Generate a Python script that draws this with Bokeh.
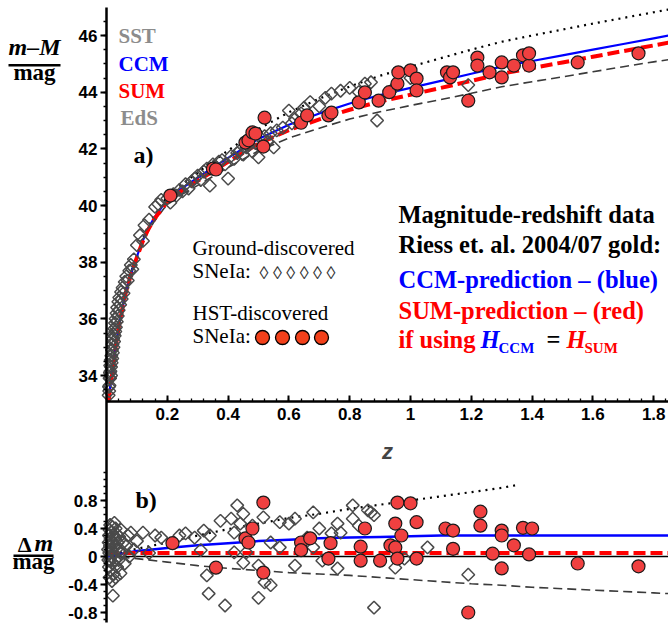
import numpy as np
from bokeh.plotting import figure
from bokeh.models import (Range1d, LinearAxis, FixedTicker, Label, Legend, LegendItem,
                          BoxAnnotation, Grid)
from bokeh.embed import file_html
from bokeh.resources import INLINE

# ---------------- data ----------------
# model curves, panel a)  (z, m-M)
z_curve = [0.0075, 0.012, 0.019, 0.025, 0.03, 0.04, 0.05, 0.0625, 0.075, 0.085, 0.1, 0.117, 0.135,
           0.156, 0.19, 0.211, 0.25, 0.3, 0.352, 0.4, 0.5, 0.6, 0.7, 0.8, 0.9, 1.0, 1.1, 1.2, 1.3,
           1.4, 1.5, 1.6, 1.7, 1.8, 1.85]
ccm_top = [33.1, 33.6, 34.07, 34.55, 34.99, 35.7, 36.25, 36.89, 37.35, 37.75, 38.2, 38.7, 39.15,
           39.55, 40.07, 40.3, 40.62, 40.98, 41.35, 41.68, 42.35, 42.85, 43.25, 43.6, 43.9, 44.15,
           44.4, 44.65, 44.9, 45.1, 45.3, 45.5, 45.7, 45.9, 46.0]
sum_top = [33.1, 33.6, 34.07, 34.55, 34.99, 35.7, 36.25, 36.89, 37.35, 37.74, 38.17, 38.67, 39.11,
           39.5, 40.0, 40.23, 40.53, 40.87, 41.22, 41.54, 42.18, 42.66, 43.04, 43.38, 43.67, 43.91,
           44.15, 44.4, 44.65, 44.85, 45.05, 45.25, 45.45, 45.65, 45.75]
eds_top = [33.1, 33.6, 34.06, 34.53, 34.97, 35.67, 36.21, 36.85, 37.3, 37.69, 38.12, 38.61, 39.04,
           39.42, 39.91, 40.12, 40.4, 40.71, 41.04, 41.34, 41.93, 42.38, 42.73, 43.05, 43.31, 43.53,
           43.74, 43.96, 44.19, 44.37, 44.54, 44.72, 44.9, 45.07, 45.15]
sst_top = [33.1, 33.6, 34.08, 34.56, 35.0, 35.72, 36.28, 36.92, 37.39, 37.79, 38.25, 38.76, 39.22,
           39.63, 40.17, 40.41, 40.76, 41.16, 41.57, 41.94, 42.7, 43.29, 43.77, 44.2, 44.58, 44.9,
           45.2, 45.5, 45.78, 46.0, 46.21, 46.42, 46.62, 46.82, 46.92]

# model curves, panel b)  (z, delta m)
z_res = [0.0, 0.05, 0.1, 0.2, 0.3, 0.4, 0.5, 0.6, 0.7, 0.8, 0.9, 1.0, 1.1, 1.2, 1.3, 1.4, 1.5,
         1.6, 1.7, 1.8, 1.85]
ccm_res = [0.0, 0.04, 0.08, 0.12, 0.16, 0.19, 0.22, 0.24, 0.26, 0.27, 0.28, 0.29, 0.3, 0.3, 0.3,
           0.3, 0.3, 0.3, 0.3, 0.3, 0.3]
sum_res = [0.05, 0.05, 0.05, 0.05, 0.05, 0.05, 0.05, 0.05, 0.05, 0.05, 0.05, 0.05, 0.05, 0.05,
           0.05, 0.05, 0.05, 0.05, 0.05, 0.05, 0.05]
zero_res = [0.0] * len(z_res)
eds_res = [0.0, -0.01, -0.03, -0.08, -0.13, -0.17, -0.2, -0.23, -0.25, -0.27, -0.3, -0.33, -0.36,
           -0.39, -0.41, -0.44, -0.46, -0.48, -0.5, -0.52, -0.53]
z_sst_res = [0.0, 0.05, 0.1, 0.2, 0.3, 0.4, 0.5, 0.6, 0.7, 0.8, 0.9, 1.0, 1.1, 1.2, 1.3, 1.36]
sst_res = [0.0, 0.06, 0.11, 0.2, 0.3, 0.39, 0.47, 0.55, 0.61, 0.68, 0.74, 0.8, 0.86, 0.92, 0.98, 1.03]

# ground-discovered SNe Ia, panel a)  (z, m-M)
ground_top = [
    (0.007, 33.3), (0.008, 33.6), (0.009, 33.45), (0.01, 33.9), (0.01, 33.65), (0.011, 34.1),
    (0.012, 33.9), (0.012, 34.35), (0.013, 34.15), (0.014, 34.55), (0.015, 34.3), (0.015, 34.0),
    (0.016, 34.7), (0.017, 34.45), (0.018, 34.9), (0.019, 34.6), (0.02, 35.1), (0.021, 34.8),
    (0.022, 35.3), (0.023, 35.0), (0.024, 35.45), (0.025, 35.2), (0.026, 35.65), (0.027, 35.4),
    (0.028, 35.85), (0.029, 35.55), (0.03, 36.0), (0.031, 35.7), (0.033, 36.2), (0.034, 35.9),
    (0.035, 36.4), (0.037, 36.1), (0.039, 36.6), (0.04, 36.3), (0.042, 36.75), (0.045, 36.5),
    (0.048, 36.95), (0.05, 36.7), (0.053, 37.1), (0.056, 36.9), (0.06, 37.3), (0.065, 37.5),
    (0.07, 37.35), (0.075, 37.7), (0.08, 37.9), (0.085, 37.75), (0.09, 38.1), (0.1, 38.6),
    (0.11, 38.95), (0.12, 38.75), (0.125, 39.3), (0.14, 39.5), (0.16, 39.95), (0.17, 40.05),
    (0.18, 40.2),
    (0.2, 40.25), (0.21, 40.1), (0.22, 40.4), (0.23, 40.35), (0.24, 40.55), (0.25, 40.5),
    (0.26, 40.75), (0.27, 40.6), (0.28, 40.85), (0.29, 40.95), (0.3, 41.05), (0.31, 40.9),
    (0.32, 41.2), (0.33, 41.3), (0.34, 40.7), (0.35, 41.45), (0.36, 41.35), (0.37, 41.55),
    (0.38, 41.6), (0.39, 41.45), (0.40, 40.95), (0.41, 41.75), (0.42, 41.65), (0.43, 41.85),
    (0.44, 41.95), (0.45, 41.8), (0.46, 42.05), (0.47, 42.15), (0.48, 41.9), (0.49, 42.2),
    (0.5, 41.7), (0.51, 42.35), (0.52, 42.45), (0.53, 42.25), (0.54, 42.55), (0.55, 42.05),
    (0.56, 42.65), (0.58, 42.75), (0.6, 43.35), (0.61, 42.9), (0.62, 43.05), (0.64, 43.25),
    (0.65, 43.45), (0.67, 43.65), (0.7, 43.5), (0.72, 43.8), (0.74, 43.95), (0.77, 44.05),
    (0.8, 44.15), (0.83, 44.0), (0.85, 44.3), (0.87, 44.35), (0.89, 43.0), (0.95, 44.2),
    (1.0, 44.5), (1.19, 44.25)]

# HST-discovered SNe Ia, panel a)
hst_z_top = [0.21, 0.35, 0.36, 0.457, 0.467, 0.48, 0.49, 0.516, 0.52, 0.64, 0.66, 0.73, 0.74,
             0.83, 0.85, 0.895, 0.93, 0.957, 0.96, 1.0, 1.02, 1.02, 1.12, 1.13, 1.14, 1.19, 1.22,
             1.22, 1.26, 1.3, 1.3, 1.34, 1.37, 1.39, 1.39, 1.55, 1.75]
hst_mag_top = [40.35, 41.3, 41.27, 42.22, 42.3, 42.58, 42.54, 42.08, 43.1, 42.92, 43.18, 43.18,
               43.28, 43.64, 43.99, 43.7, 44.0, 44.3, 44.7, 44.77, 44.48, 44.06, 44.7, 44.52, 44.7,
               43.7, 45.22, 44.94, 44.7, 45.05, 44.52, 44.94, 45.3, 44.94, 45.37, 45.05, 45.37]

# ground-discovered SNe Ia, panel b)  (z, delta m)
ground_res = [
    (0.005, 0.1), (0.006, -0.05), (0.007, 0.2), (0.008, 0.3), (0.008, -0.15), (0.009, 0.05),
    (0.01, 0.38), (0.01, -0.3), (0.011, 0.15), (0.012, 0.45), (0.012, -0.05), (0.013, 0.25),
    (0.014, -0.2), (0.015, 0.1), (0.016, 0.35), (0.017, 0.0), (0.018, -0.35), (0.019, 0.2),
    (0.02, 0.42), (0.02, -0.1), (0.021, -0.56), (0.022, 0.3), (0.023, 0.05), (0.024, -0.25),
    (0.025, 0.15), (0.026, 0.48), (0.027, -0.05), (0.028, 0.25), (0.03, 0.4), (0.03, -0.3),
    (0.032, 0.1), (0.034, 0.32), (0.035, -0.15), (0.037, 0.2), (0.04, -0.05), (0.042, 0.28),
    (0.045, 0.1), (0.046, -0.24), (0.048, 0.38), (0.05, 0.05), (0.055, 0.2), (0.06, -0.1),
    (0.065, 0.15), (0.07, 0.3), (0.075, 0.0), (0.08, 0.34), (0.09, 0.1), (0.1, 0.22),
    (0.12, 0.34), (0.14, 0.05), (0.16, 0.3), (0.18, 0.27),
    (0.24, 0.3), (0.26, 0.33), (0.29, 0.27), (0.31, 0.09), (0.32, 0.37), (0.33, -0.27),
    (0.336, -0.53), (0.34, 0.3), (0.375, 0.51), (0.39, -0.7), (0.41, 0.54), (0.42, 0.34),
    (0.42, 0.06), (0.43, 0.73), (0.44, 0.47), (0.45, 0.61), (0.45, -0.09), (0.46, 0.06),
    (0.48, 0.44), (0.5, -0.59), (0.5, -0.13), (0.516, 0.56), (0.52, -0.37), (0.54, 0.2),
    (0.54, -0.41), (0.57, 0.49), (0.57, 0.13), (0.6, 0.47), (0.62, 0.54), (0.62, -0.13),
    (0.66, 0.27), (0.68, 0.63), (0.68, 0.13), (0.7, 0.4), (0.71, -0.06), (0.74, 0.33),
    (0.76, 0.47), (0.76, -0.17), (0.77, 0.34), (0.81, 0.73), (0.81, 0.54), (0.83, 0.44),
    (0.86, 0.66), (0.87, 0.63), (0.88, 0.59), (0.88, -0.73), (0.95, -0.16), (0.98, -0.03),
    (1.056, 0.13), (1.19, -0.26)]

# HST-discovered SNe Ia, panel b)
hst_z_res = [0.217, 0.36, 0.457, 0.467, 0.48, 0.516, 0.516, 0.64, 0.67, 0.64, 0.737, 0.73, 0.836,
             0.85, 0.836, 0.9, 0.957, 1.0, 0.95, 0.97, 0.934, 0.95, 0.957, 1.02, 1.02, 1.115, 1.14,
             1.14, 1.23, 1.23, 1.27, 1.3, 1.3, 1.34, 1.3, 1.37, 1.4, 1.39, 1.55, 1.75, 1.19]
hst_dm = [0.19, -0.16, 0.26, 0.2, 0.4, 0.77, -0.23, 0.2, 0.26, 0.09, 0.19, -0.03, 0.14, 0.4,
          -0.06, -0.06, 0.77, 0.76, 0.47, 0.3, 0.16, 0.13, -0.03, 0.49, -0.03, 0.4, 0.37, 0.11,
          0.64, 0.44, 0.04, 0.37, 0.3, 0.16, -0.17, 0.41, 0.4, 0.03, -0.1, -0.14, -0.8]

x_ticks = [0.2, 0.4, 0.6, 0.8, 1.0, 1.2, 1.4, 1.6, 1.8]
x_tick_labels = {0.2: "0.2", 0.4: "0.4", 0.6: "0.6", 0.8: "0.8", 1.0: "1", 1.2: "1.2",
                 1.4: "1.4", 1.6: "1.6", 1.8: "1.8"}
mag_ticks = [34, 36, 38, 40, 42, 44, 46]
dm_ticks = [-0.8, -0.4, 0, 0.4, 0.8]
dm_tick_labels = {-0.8: "-0.8", -0.4: "-0.4", 0: "0", 0.4: "0.4", 0.8: "0.8"}

# ---------------- layout (frame = whole canvas; axes are fixed inside it) ----------------
W, H = 668, 626
AX_X = 106                 # page x of z = 0
PX_PER_Z = 304.0
PX_PER_MAG = 28.333
MAG34_Y = 375              # page y of m-M = 34
PX_PER_DM = 70.0
DM0_Y = 556                # page y of delta m = 0

Z_START = -AX_X / PX_PER_Z
Z_END = (W - AX_X) / PX_PER_Z
MAG_TOP = 34 + MAG34_Y / PX_PER_MAG
MAG_BOT = MAG_TOP - H / PX_PER_MAG
DM_TOP = DM0_Y / PX_PER_DM
DM_BOT = DM_TOP - H / PX_PER_DM
MAG_XAXIS = 34 - (401 - MAG34_Y) / PX_PER_MAG

p = figure(width=W, height=H, output_backend="svg", toolbar_location=None,
           x_range=Range1d(Z_START, Z_END), y_range=Range1d(MAG_BOT, MAG_TOP),
           x_axis_location=None, y_axis_location=None,
           min_border_left=0, min_border_right=0, min_border_top=0, min_border_bottom=0)
p.outline_line_color = None
p.background_fill_color = "white"
for r in list(p.center):
    if isinstance(r, Grid):
        r.visible = False
p.extra_y_ranges = {"dm": Range1d(DM_BOT, DM_TOP), "px": Range1d(0, H)}
p.extra_x_ranges = {"px": Range1d(0, W)}

TICKFONT = "Liberation Sans"


def style_axis(ax):
    ax.axis_line_width = 2.5
    ax.axis_line_color = "black"
    ax.major_tick_line_width = 2
    ax.minor_tick_line_width = 1.3
    ax.major_label_text_font = TICKFONT
    ax.major_label_text_font_style = "bold"
    ax.major_label_text_font_size = "17px"
    ax.major_label_text_color = "black"


yax = LinearAxis(fixed_location=0,
                 bounds=(34 - (622 - MAG34_Y) / PX_PER_MAG, 34 + (MAG34_Y - 7) / PX_PER_MAG),
                 ticker=FixedTicker(ticks=mag_ticks, minor_ticks=[33.5 + 0.5 * i for i in range(27)]))
style_axis(yax)
yax.major_tick_out, yax.major_tick_in = 6, 0
yax.minor_tick_out, yax.minor_tick_in = 3, 0
yax.major_label_standoff = 3
p.add_layout(yax, "left")

dax = LinearAxis(y_range_name="dm", fixed_location=0,
                 ticker=FixedTicker(ticks=dm_ticks, minor_ticks=[round(-0.9 + 0.1 * i, 2) for i in range(22)]))
style_axis(dax)
dax.axis_line_color = None
dax.major_label_overrides = dm_tick_labels
dax.major_tick_out, dax.major_tick_in = 6, 0
dax.minor_tick_out, dax.minor_tick_in = 3, 0
dax.major_label_standoff = 3
p.add_layout(dax, "left")

xax = LinearAxis(fixed_location=MAG_XAXIS, bounds=(0, Z_END),
                 ticker=FixedTicker(ticks=x_ticks, minor_ticks=[round(0.04 * i, 2) for i in range(1, 47)]),
                 axis_label="z")
style_axis(xax)
xax.major_label_overrides = x_tick_labels
xax.major_tick_in, xax.major_tick_out = 6, 0
xax.minor_tick_in, xax.minor_tick_out = 3, 0
xax.major_label_standoff = 6
xax.axis_label_text_font = TICKFONT
xax.axis_label_text_font_style = "bold italic"
xax.axis_label_text_font_size = "22px"
xax.axis_label_standoff = 16
p.add_layout(xax, "below")

# ---------------- panel a) ----------------
p.line(z_curve, sst_top, line_color="black", line_width=2.2, line_dash="2 5")
p.line(z_curve, eds_top, line_color="#3a3a3a", line_width=1.6, line_dash="9 5")
p.line(z_curve, ccm_top, line_color="#0000ff", line_width=2.2)
p.line(z_curve, sum_top, line_color="#ff0000", line_width=4, line_dash="12 5")

gz, gm = zip(*ground_top)
p.scatter(list(gz), list(gm), marker="square", angle=np.pi / 4, size=9, fill_alpha=0,
          line_color="#4a4a4a", line_width=1.5)
p.scatter(hst_z_top, hst_mag_top, marker="circle", size=13, fill_color="#f04040",
          line_color="#1a1a1a", line_width=1.2)

# ---------------- panel b) ----------------
p.line(z_res, zero_res, y_range_name="dm", line_color="black", line_width=1.5)
p.line(z_sst_res, sst_res, y_range_name="dm", line_color="black", line_width=2.2, line_dash="2 5")
p.line(z_res, eds_res, y_range_name="dm", line_color="#3a3a3a", line_width=1.6, line_dash="9 5")
p.line(z_res, ccm_res, y_range_name="dm", line_color="#0000ff", line_width=2.5)
p.line(z_res, sum_res, y_range_name="dm", line_color="#ff0000", line_width=4, line_dash="12 5")

rz, rd = zip(*ground_res)
p.scatter(list(rz), list(rd), y_range_name="dm", marker="square", angle=np.pi / 4, size=9,
          fill_alpha=0, line_color="#4a4a4a", line_width=1.5)
p.scatter(hst_z_res, hst_dm, y_range_name="dm", marker="circle", size=13, fill_color="#f04040",
          line_color="#1a1a1a", line_width=1.2)

# ---------------- legend of model curves ----------------
l_sst = p.line([], [], line_color="black", line_width=2.2, line_dash="2 4")
l_ccm = p.line([], [], line_color="#0000ff", line_width=2)
l_sum = p.line([], [], line_color="#ff0000", line_width=2)
l_eds = p.line([], [], line_color="#3a3a3a", line_width=1.6, line_dash="6 4")
leg = Legend(items=[LegendItem(label=" ", renderers=[r]) for r in (l_sst, l_ccm, l_sum, l_eds)],
             location=(172, H - 20), orientation="vertical", glyph_width=36, glyph_height=20,
             label_height=20, label_width=0, label_standoff=0, spacing=8, padding=0, margin=0,
             border_line_color=None, background_fill_alpha=0)
p.add_layout(leg, "center")

SERIF = "Liberation Serif"


def lab(text, x, y, size, color="black", style="bold", align="left", font=SERIF):
    # y is the wanted baseline on the page; the renderer sets text about 1/3 em lower
    p.add_layout(Label(x=x, y=H - y + 0.34 * size, x_units="screen", y_units="screen", text=text,
                       text_font=font, text_font_size=f"{size}px", text_font_style=style,
                       text_color=color, text_align=align, text_baseline="alphabetic"))


lab("SST", 118, 43, 21, "#8c8c8c")
lab("CCM", 118, 71, 21, "#0000ff")
lab("SUM", 118, 98, 21, "#ff0000")
lab("EdS", 120, 125, 21, "#8c8c8c")

lab("a)", 133, 163, 24)
lab("b)", 135, 508, 24)

lab("Magnitude-redshift data", 398, 222, 24.5)
lab("Riess et. al. 2004/07 gold:", 398, 252, 24.5)
lab("CCM-prediction \u2013 (blue)", 398, 287, 24.5, "#0000ff")
lab("SUM-prediction  \u2013 (red)", 398, 318, 24.5, "#ff0000")
lab("if using", 398, 347, 24.5, "#ff0000")
lab("H", 480, 347, 24.5, "#0000ff", "bold italic")
lab("CCM", 498, 353, 15, "#0000ff")
lab("=", 546, 347, 24.5, "black")
lab("H", 566, 347, 24.5, "#ff0000", "bold italic")
lab("SUM", 584, 353, 15, "#ff0000")

lab("Ground-discovered", 192, 255, 21, style="normal")
lab("SNeIa:", 192, 278, 21, style="normal")
lab("\u25ca \u25ca \u25ca \u25ca \u25ca \u25ca", 259, 279, 18, "#333333", style="normal")
lab("HST-discovered", 192, 320, 21, style="normal")
lab("SNeIa:", 192, 343, 21, style="normal")
p.scatter([262, 282, 302, 321], [H - 337] * 4, x_range_name="px", y_range_name="px",
          marker="circle", size=14, fill_color="#f2401a", line_color="black", line_width=1.3)

# axis titles written as fractions
lab("m\u2013M", 34, 55, 24, style="bold italic", align="center")
lab("mag", 34, 80, 23, align="center")
p.add_layout(BoxAnnotation(left=8, right=60, bottom=H - 66, top=H - 63.5,
                           left_units="screen", right_units="screen", top_units="screen",
                           bottom_units="screen", fill_color="black", fill_alpha=1,
                           line_color=None))
lab("\u0394", 31, 551, 22, align="right")
lab("m", 34, 551, 24, style="bold italic")
lab("mag", 33, 569, 23, align="center")
p.add_layout(BoxAnnotation(left=13, right=53, bottom=H - 556.5, top=H - 554,
                           left_units="screen", right_units="screen", top_units="screen",
                           bottom_units="screen", fill_color="black", fill_alpha=1,
                           line_color=None))

open("out.html", "w", encoding="utf-8").write(file_html(p, INLINE))
